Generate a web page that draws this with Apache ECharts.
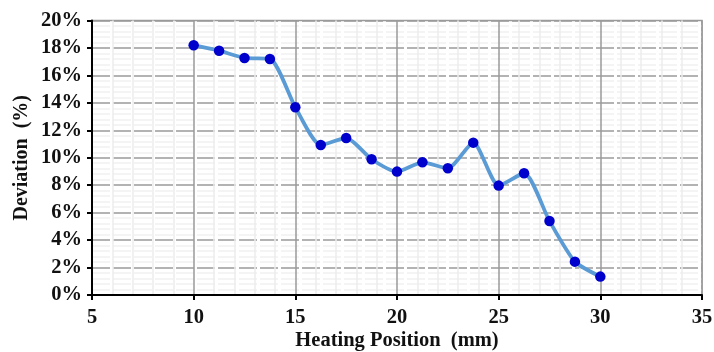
<!DOCTYPE html>
<html><head><meta charset="utf-8">
<script src="https://cdn.jsdelivr.net/npm/echarts@6/dist/echarts.min.js"></script>
<style>html,body{margin:0;padding:0;background:#fff}#c{width:714px;height:352px}</style>
</head><body><div id="c"></div>
<script>
const xValues = [10, 11.25, 12.5, 13.75, 15, 16.25, 17.5, 18.75, 20, 21.25, 22.5, 23.75, 25, 26.25, 27.5, 28.75, 30];
const deviation = [18.2, 17.8, 17.27, 17.2, 13.68, 10.93, 11.44, 9.89, 8.99, 9.67, 9.23, 11.1, 7.97, 8.87, 5.39, 2.43, 1.34];
const xTitle = 'Heating Position  (mm)';
const yTitle = 'Deviation  (%)';

const font = 'Liberation Serif';
const chart = echarts.init(document.getElementById('c'));
chart.setOption({
  animation: false,
  grid: {left: 92, right: 12, top: 20.5, bottom: 57, show: true, borderColor: '#9a9a9a', borderWidth: 1.5, containLabel: false, outerBoundsMode: 'none'},
  xAxis: {
    type: 'value', min: 5, max: 35, interval: 5,
    name: xTitle, nameLocation: 'middle', nameGap: 35.5, nameMoveOverlap: false,
    nameTextStyle: {fontFamily: font, fontWeight: 'bold', fontSize: 20.5, color: '#111'},
    axisLine: {show: true, lineStyle: {color: '#000', width: 2}},
    axisTick: {show: true, length: 5, lineStyle: {color: '#000', width: 2}},
    axisLabel: {fontFamily: font, fontWeight: 'bold', fontSize: 20.5, color: '#111', margin: 12},
    splitLine: {show: true, lineStyle: {color: '#9a9a9a', width: 1.5}},
    minorTick: {show: false, splitNumber: 5},
    minorSplitLine: {show: true, lineStyle: {color: '#ededed', width: 1.5}}
  },
  yAxis: {
    type: 'value', min: 0, max: 20, interval: 2,
    name: yTitle, nameLocation: 'middle', nameGap: 60, nameRotate: 90, nameMoveOverlap: false,
    nameTextStyle: {fontFamily: font, fontWeight: 'bold', fontSize: 20, color: '#111'},
    axisLine: {show: true, lineStyle: {color: '#000', width: 2}},
    axisTick: {show: true, length: 5, lineStyle: {color: '#000', width: 2}},
    axisLabel: {fontFamily: font, fontWeight: 'bold', fontSize: 20.5, color: '#111', margin: 10, formatter: '{value}%'},
    splitLine: {show: true, lineStyle: {color: '#9a9a9a', width: 1.5, type: [18, 3]}},
    minorTick: {show: false, splitNumber: 5},
    minorSplitLine: {show: true, lineStyle: {color: '#f1f1f1', width: 1.5, type: [18, 3]}}
  },
  series: [{
    type: 'line', smooth: 0.22,
    data: xValues.map((x, i) => [x, deviation[i]]),
    lineStyle: {color: '#5b9bd5', width: 3.8},
    symbol: 'circle', symbolSize: 10.5,
    itemStyle: {color: '#0000cc', borderWidth: 0}
  }]
});
</script></body></html>
